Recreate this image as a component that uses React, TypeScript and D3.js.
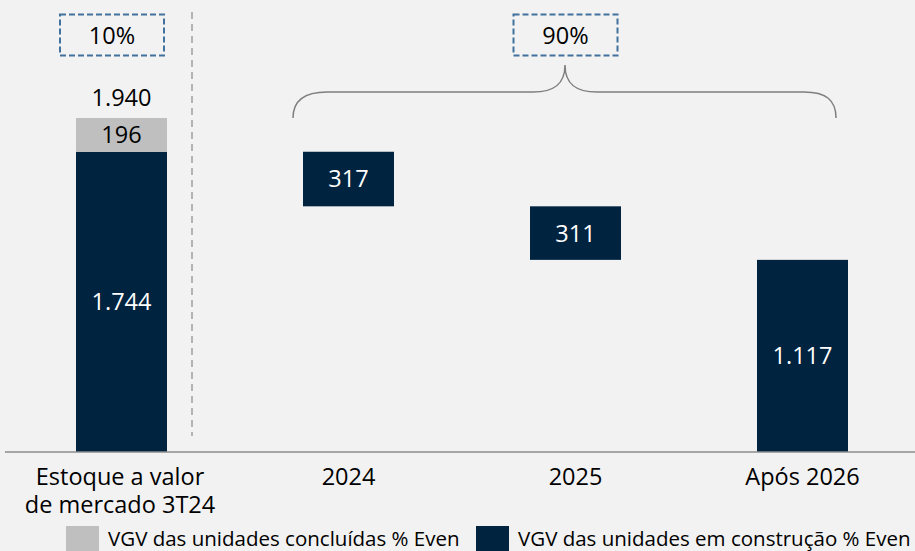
import React from "react";
import * as d3 from "d3";

const categories = ["Estoque a valor\nde mercado 3T24", "2024", "2025", "Após 2026"];
const concluidas = [196, 0, 0, 0];
const construcao = [1744, 317, 311, 1117];
const totalLabel = "1.940";
const valueLabels = [["1.744", "196"], ["317"], ["311"], ["1.117"]];
const shareLabels = ["10%", "90%"];
const legendLabels = ["VGV das unidades concluídas % Even", "VGV das unidades em construção % Even"];

const W = 915;
const H = 551;
const NAVY = "#002340";
const GRAY = "#bfbfbf";
const FONT = "'Open Sans', sans-serif";

export default function App() {
  const total = concluidas[0] + construcao[0];
  const y = d3.scaleLinear().domain([0, total]).range([452, 118]);
  const x = d3.scalePoint<string>().domain(categories).range([121.5, 802.5]);
  const bw = 91;

  const bars: { cat: string; y0: number; y1: number; color: string; label: string }[] = [];
  bars.push({ cat: categories[0], y0: 0, y1: construcao[0], color: NAVY, label: valueLabels[0][0] });
  bars.push({ cat: categories[0], y0: construcao[0], y1: total, color: GRAY, label: valueLabels[0][1] });
  let level = construcao[0];
  for (let i = 1; i < categories.length; i++) {
    const top = level;
    const bottom = i === categories.length - 1 ? 0 : level - construcao[i];
    bars.push({ cat: categories[i], y0: bottom, y1: top, color: NAVY, label: valueLabels[i][0] });
    level = level - construcao[i];
  }

  const bl = (x(categories[1]) as number) - bw / 2 - 10;
  const br = (x(categories[3]) as number) + bw / 2 - 12;
  const bm = (bl + br) / 2 + 0.5;
  const yb = 92;
  const yEnd = 118;
  const yTip = 65;
  const bracePath = `M${bl},${yEnd} C${bl},${yb + 8} ${bl + 12},${yb} ${bl + 34},${yb} L${bm - 32},${yb} C${bm - 12},${yb} ${bm},${yb - 7} ${bm},${yTip} C${bm},${yb - 7} ${bm + 12},${yb} ${bm + 32},${yb} L${br - 32},${yb} C${br - 10},${yb} ${br},${yb + 8} ${br},${yEnd}`;

  const x0 = x(categories[0]) as number;

  return (
    <svg width={W} height={H} style={{ position: "absolute", left: 0, top: 0 }} fontFamily={FONT}>
      <rect x={0} y={0} width={W} height={H} fill="#f2f2f2" />
      {bars.map((b, i) => {
        const cx = x(b.cat) as number;
        const yt = y(b.y1);
        const yB = y(b.y0);
        return (
          <g key={i}>
            <rect x={cx - bw / 2} y={yt} width={bw} height={yB - yt} fill={b.color} />
            <text
              x={cx}
              y={(yt + yB) / 2}
              dy="0.36em"
              textAnchor="middle"
              fontSize={23.5}
              fill={b.color === NAVY ? "#ffffff" : "#000000"}
            >
              {b.label}
            </text>
          </g>
        );
      })}
      <text x={x0} y={106} textAnchor="middle" fontSize={23.5} fill="#000">
        {totalLabel}
      </text>
      <line x1={5} x2={W} y1={452} y2={452} stroke="#8c8c8c" strokeWidth={1.5} />
      <line x1={192} x2={192} y1={12} y2={436} stroke="#a0a0a0" strokeWidth={1.5} strokeDasharray="7,5" />
      <rect x={60} y={14.5} width={104} height={41} fill="none" stroke="#41719c" strokeWidth={2} strokeDasharray="6,3" />
      <text x={112} y={44} textAnchor="middle" fontSize={23.5} fill="#000">{shareLabels[0]}</text>
      <rect x={513.5} y={14.5} width={104} height={41} fill="none" stroke="#41719c" strokeWidth={2} strokeDasharray="6,3" />
      <text x={565.5} y={44} textAnchor="middle" fontSize={23.5} fill="#000">{shareLabels[1]}</text>
      <path d={bracePath} fill="none" stroke="#7f7f7f" strokeWidth={1.5} />
      {categories.map((c, i) => {
        const lines = c.split("\n");
        const cx = (x(c) as number) - (i === 0 ? 1.5 : 0);
        return (
          <g key={i}>
            {lines.map((l, j) => (
              <text key={j} x={cx} y={485 + j * 28} textAnchor="middle" fontSize={23.5} fill="#000">
                {l}
              </text>
            ))}
          </g>
        );
      })}
      <rect x={66} y={526} width={33} height={33} fill={GRAY} />
      <text x={108} y={546} fontSize={20.5} fill="#000">{legendLabels[0]}</text>
      <rect x={476} y={526} width={33} height={33} fill={NAVY} />
      <text x={518} y={546} fontSize={20.5} fill="#000">{legendLabels[1]}</text>
    </svg>
  );
}
